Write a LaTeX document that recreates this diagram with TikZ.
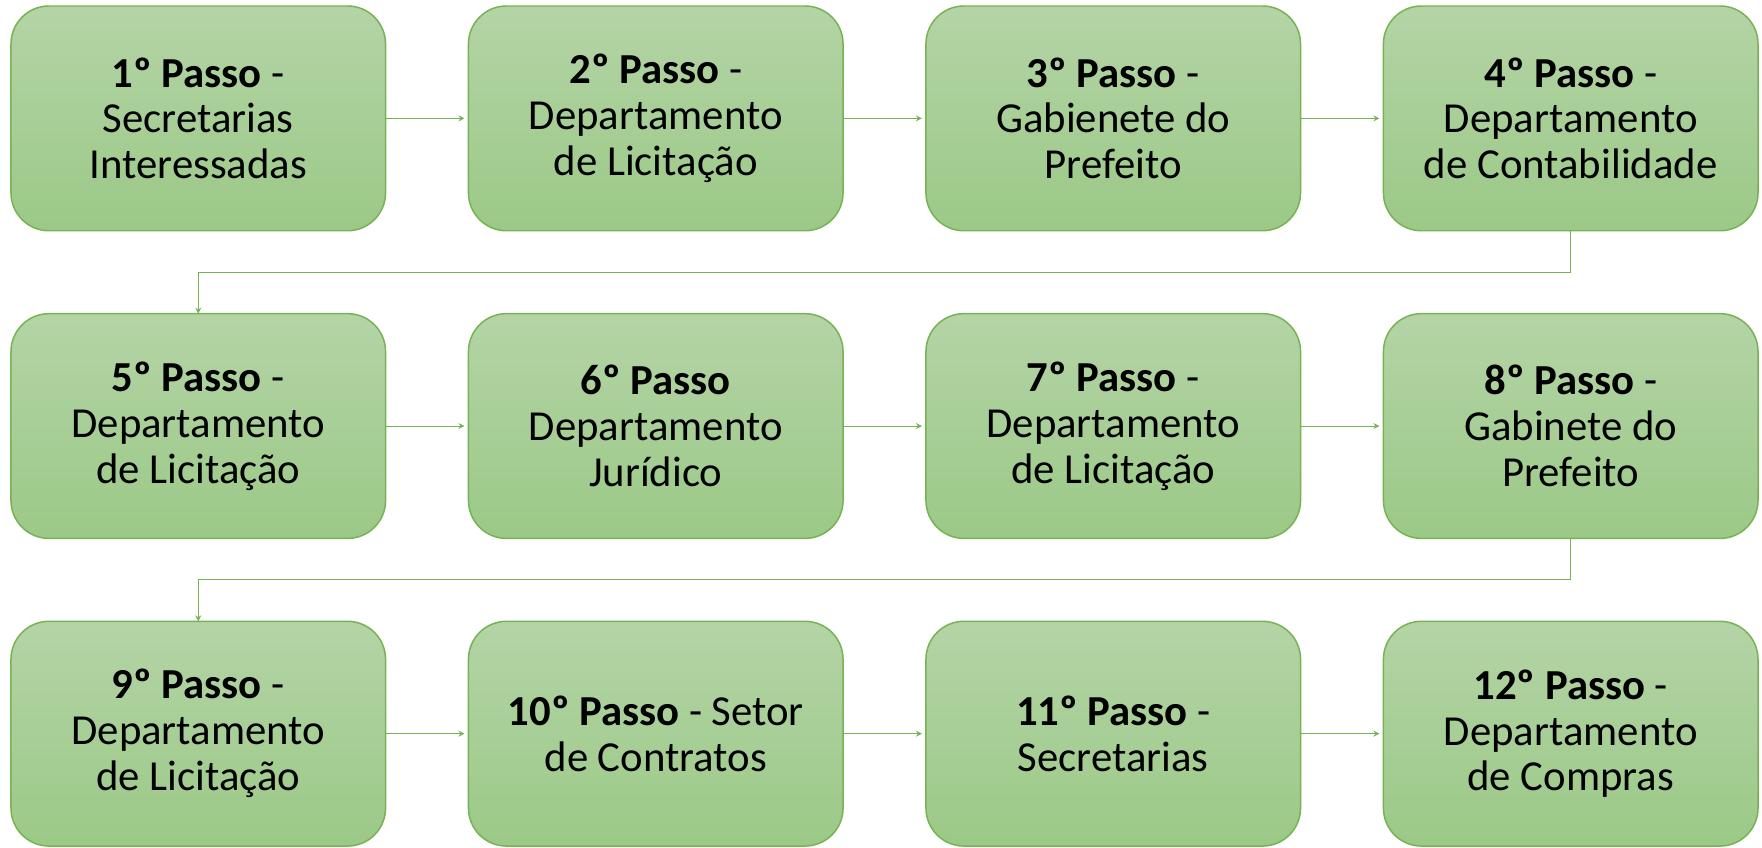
\documentclass[tikz,border=0pt]{standalone}
\usepackage{fontspec}
\setmainfont{Carlito}
\usetikzlibrary{arrows.meta,positioning}

\definecolor{boxtop}{RGB}{180,212,166}
\definecolor{boxbottom}{RGB}{155,201,135}
\definecolor{boxline}{RGB}{120,178,84}

\begin{document}
\begin{tikzpicture}[node distance= 41.5pt]
      \begin{scope}[every node/.style={rectangle,rounded corners=19pt,
          draw=boxline,line width=0.75pt,top color=boxtop,bottom color=boxbottom,
          minimum width=187.5pt,minimum height=112.5pt,inner sep=0pt,outer sep=0pt,
          align=center,font=\fontsize{21.4}{23}\selectfont}]
        \node (A) {\textbf{1º Passo} -\\Secretarias\\Interessadas};
        \node (B) [right= of A] {\textbf{2º Passo} -\\Departamento\\de Licitação};
        \node (C) [right= of B] {\textbf{3º Passo} -\\Gabienete do\\Prefeito};
        \node (D) [right= of C] {\textbf{4º Passo} -\\Departamento\\de Contabilidade};
        \node (E) [below= of A] {\textbf{5º Passo} -\\Departamento\\de Licitação};
        \node (F) [right= of E] {\textbf{6º Passo}\\Departamento\\Jurídico};
        \node (G) [right= of F] {\textbf{7º Passo} -\\Departamento\\de Licitação};
        \node (H) [right= of G] {\textbf{8º Passo} -\\Gabinete do\\Prefeito};
        \node (I) [below= of E] {\textbf{9º Passo} -\\Departamento\\de Licitação};
        \node (J) [right= of I] {\textbf{10º Passo} - Setor\\de Contratos};
        \node (K) [right= of J] {\textbf{11º Passo} -\\Secretarias};
        \node (L) [right= of K] {\textbf{12º Passo} -\\Departamento\\de Compras};
      \end{scope}
      \begin{scope}
        [every edge/.style={draw= boxline, line width=0.5pt,
          -{Stealth[length=3pt,width=3pt]}, shorten >=2pt}]
        \path (A) edge (B);
        \path (B) edge (C);
        \path (C) edge (D);
        \path (E) edge (F);
        \path (F) edge (G);
        \path (G) edge (H);
        \path (I) edge (J);
        \path (J) edge (K);
        \path (K) edge (L);
        \draw[boxline, line width=0.5pt, -{Stealth[length=3pt,width=3pt]}]
          (D.south) -- ++(0,-20.75pt) -| (E.north);
        \draw[boxline, line width=0.5pt, -{Stealth[length=3pt,width=3pt]}]
          (H.south) -- ++(0,-20.75pt) -| (I.north);
      \end{scope}
      \pgfresetboundingbox
      \useasboundingbox ([shift={(-5.5pt,3pt)}]A.north west)
        rectangle ([shift={(2pt,-0.5pt)}]L.south east);
    \end{tikzpicture}
\end{document}
